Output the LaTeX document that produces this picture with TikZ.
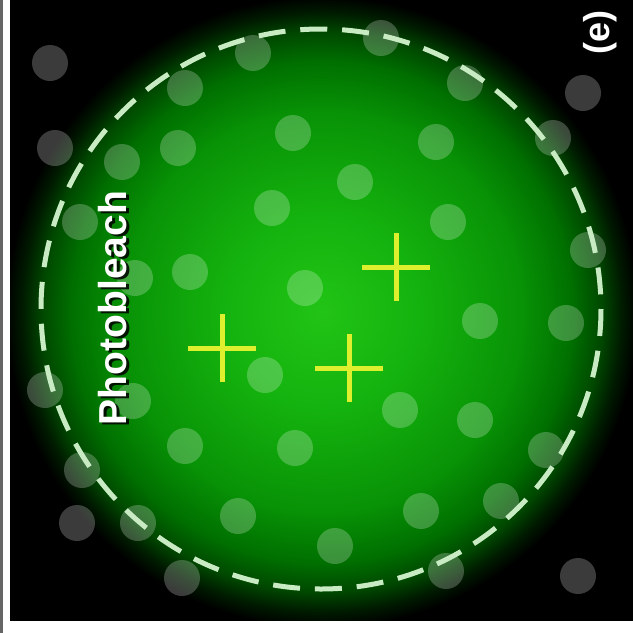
\documentclass[tikz,border=0pt]{standalone}
\usepackage{fontspec}
\setmainfont{Liberation Sans}
\definecolor{g0}{RGB}{34,196,22}
\definecolor{g1}{RGB}{20,178,14}
\definecolor{g2}{RGB}{8,146,6}
\definecolor{g3}{RGB}{0,112,0}
\definecolor{g4}{RGB}{0,72,0}
\definecolor{g5}{RGB}{0,26,0}
\definecolor{dashcol}{RGB}{200,235,195}
\definecolor{crosscol}{RGB}{222,240,45}
\pgfdeclareradialshading{glow}{\pgfpoint{0bp}{0bp}}{color(0bp)=(g0); color(7.9bp)=(g1); color(15.8bp)=(g2); color(19.8bp)=(g3); color(22.15bp)=(g4); color(23.75bp)=(g5); color(25bp)=(black); color(50bp)=(black)}
\begin{document}
\begin{tikzpicture}[x=1pt,y=-1pt,
  dot/.style={fill=white,fill opacity=0.23},
  crossline/.style={draw=crosscol,line width=5pt},
  ring/.style={draw=dashcol,line width=5pt,dash pattern=on 27pt off 14.9pt},
  lbl/.style={rotate=90,inner sep=0pt,font=\bfseries\fontsize{39}{39}\selectfont}]
\useasboundingbox (0,0) rectangle (633,633);
% background and glow
\fill[black] (0,0) rectangle (633,633);
\begin{scope}
\clip (10,0) rectangle (633,621);
\shade[shading=glow] (322,312) circle (316);
\end{scope}
% dots
\foreach \p in {(50,63),(253,53),(381,38),(185,88),(465,83),(583,93),
(55,148),(122,162),(178,148),(293,133),(436,142),(553,138),
(355,182),(272,208),(80,222),(448,222),(588,250),
(190,272),(135,278),(305,288),
(480,321),(566,323),
(265,375),(45,390),(133,401),
(400,410),(475,420),
(185,446),(295,448),(546,450),
(82,470),
(238,516),(421,511),(501,501),(77,523),(138,523),
(335,546),(446,571),(182,578),(578,576)}
  {\fill[dot] \p circle (18);}
% dashed boundary
\coordinate (c) at (321,309);
\draw[ring] (c) circle (280);
% crosses
\foreach \x/\y in {222/348,349/368,396/267}{
  \draw[crossline] (\x-34,\y) -- (\x+34,\y);
  \draw[crossline] (\x,\y-34) -- (\x,\y+34);
}
% labels
\node[lbl,text=black,opacity=0.85] (pbshadow) at (116,310) {Photobleach};
\node[lbl,text=white] (pb) at (113,308) {Photobleach};
\node[rotate=90,inner sep=0pt,text=white,font=\bfseries\fontsize{36}{36}\selectfont] (lbl) at (600,32) {(e)};
% frame strips on top
\fill[white] (0,621) rectangle (633,633);
\fill[white] (3,0) rectangle (10,633);
\fill[black!60] (0,0) rectangle (3,633);
\end{tikzpicture}
\end{document}
